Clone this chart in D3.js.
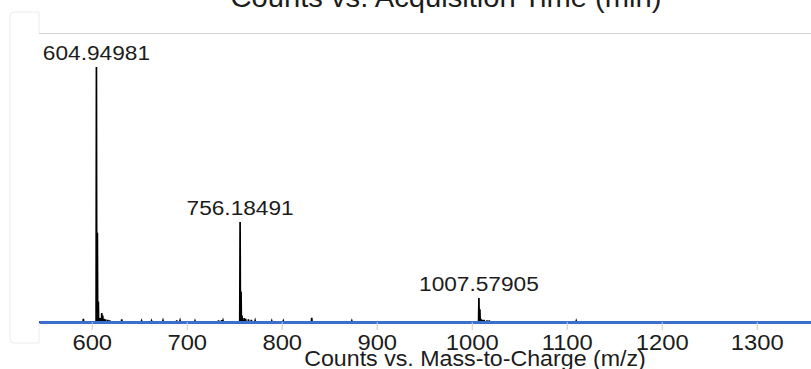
<!DOCTYPE html>
<html>
<head>
<meta charset="utf-8">
<script src="https://cdn.jsdelivr.net/npm/d3@7"></script>
<style>
  html, body { margin: 0; padding: 0; background: #fff; overflow: hidden; }
  svg { display: block; font-family: "Liberation Sans", Arial, Helvetica, sans-serif; }
</style>
</head>
<body>
<svg id="chart" width="811" height="369"></svg>
<script>
// spectrum sticks: m/z and relative abundance (% of base peak)
const peakMz = [591.2, 604.95, 605.95, 606.95, 608.9, 610.6, 611.6, 612.9, 614.5, 616.9, 619.0,
    631.6, 652.5, 663.0, 675.0, 689.5, 693.0, 708.7, 733.5, 736.8, 738.2,
    756.18, 757.19, 758.2, 760.5, 762.0, 765.0, 768.0, 772.0,
    789.5, 801.7, 831.6, 873.8,
    1007.58, 1008.58, 1009.58, 1011.0, 1013.0, 1016.0, 1018.5, 1110.0];
const peakInt = [1.2, 100, 35, 8, 1.5, 3.5, 2.5, 1.2, 1.0, 0.8, 0.6,
    1.0, 0.4, 0.4, 0.5, 0.6, 0.5, 0.4, 0.6, 0.7, 0.5,
    39.2, 12, 2.5, 1.5, 1.2, 1.0, 0.8, 0.5,
    0.4, 0.4, 1.6, 0.4,
    9.4, 5, 1.2, 0.8, 0.8, 0.6, 0.6, 0.4];

// labelled peaks
const labelMz = [604.94981, 756.18491, 1007.57905];
const labelInt = [100, 39.2, 9.4];

const xTicks = [600, 700, 800, 900, 1000, 1100, 1200, 1300];

const svg = d3.select("#chart");
const width = +svg.attr("width");
const textColor = "#1c1c1c";
const stretch = "scale(1.08,1)";

const plotLeft = 39, plotRight = 911, plotTop = 33, baseY = 322;

const x = d3.scaleLinear().domain([544.5, 1462.4]).range([plotLeft, plotRight]);
const y = d3.scaleLinear().domain([0, 113.3]).range([baseY, plotTop]);

// frame: small rounded tab on the left and the plot's top border
svg.append("path")
    .attr("d", `M${plotLeft},${baseY} V343 H14 Q10,343 10,339 V16 Q10,12 14,12 H${plotLeft} V${plotTop}`)
    .attr("fill", "none")
    .attr("stroke", "#ececec")
    .attr("stroke-width", 1);

svg.append("line")
    .attr("x1", plotLeft).attr("x2", width)
    .attr("y1", plotTop + 0.5).attr("y2", plotTop + 0.5)
    .attr("stroke", "#d2d2d2")
    .attr("stroke-width", 1.2);

// title (cut off at the top edge)
svg.append("text")
    .attr("transform", `translate(446,7) ${stretch}`)
    .attr("text-anchor", "middle")
    .attr("fill", textColor)
    .style("font-size", "27px")
    .text("Counts vs. Acquisition Time (min)");

// profile-like trace built from the sticks
const pts = [[x.domain()[0], 0]];
peakMz.map((m, i) => [m, peakInt[i]])
    .sort((a, b) => a[0] - b[0])
    .forEach(([m, v]) => {
        pts.push([m - 0.35, 0], [m, v], [m + 0.35, 0]);
    });
pts.push([x.domain()[1], 0]);

const line = d3.line()
    .x(d => x(d[0]))
    .y(d => y(d[1]));

svg.append("path")
    .datum(pts)
    .attr("d", line)
    .attr("fill", "none")
    .attr("stroke", "#000")
    .attr("stroke-width", 1.7)
    .attr("stroke-linejoin", "miter");

// x axis
const axis = svg.append("g")
    .attr("transform", `translate(0,${baseY})`)
    .call(d3.axisBottom(x).tickValues(xTicks).tickFormat(d3.format("d"))
        .tickSize(8).tickSizeOuter(0).tickPadding(4));

axis.selectAll(".tick line").attr("stroke", "#c9c9c9");
axis.select(".domain").attr("stroke", "#3a6fcf").attr("stroke-width", 3);
axis.selectAll(".tick text")
    .attr("fill", textColor)
    .attr("transform", stretch)
    .style("font-size", "22px")
    .style("font-family", "'Liberation Sans', Arial, sans-serif");

svg.append("text")
    .attr("transform", `translate(${(plotLeft + plotRight) / 2},366) ${stretch}`)
    .attr("text-anchor", "middle")
    .attr("fill", textColor)
    .style("font-size", "21.5px")
    .text("Counts vs. Mass-to-Charge (m/z)");

// peak labels
labelMz.forEach((m, i) => {
    svg.append("text")
        .attr("transform", `translate(${x(m)},${y(labelInt[i]) - 7}) ${stretch}`)
        .attr("text-anchor", "middle")
        .attr("fill", textColor)
        .style("font-size", "21px")
        .text(m.toFixed(5));
});
</script>
</body>
</html>
